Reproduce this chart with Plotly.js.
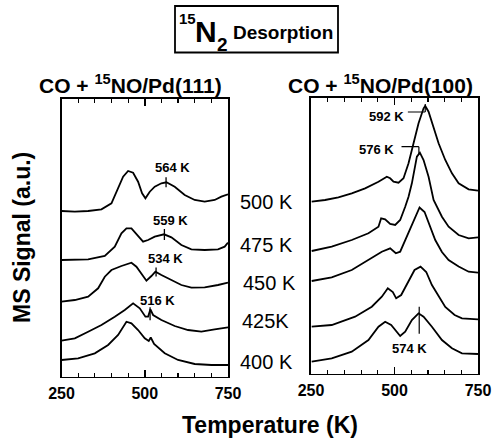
<!DOCTYPE html>
<html><head><meta charset="utf-8">
<script src="https://cdn.plot.ly/plotly-3.0.1.min.js"></script>
<style>html,body{margin:0;padding:0;background:#fff}#chart{width:496px;height:445px}</style>
</head><body><div id="chart"></div>
<script>
// ---------- DATA (signal in arbitrary units) ----------
// CO + 15NO / Pd(111)
const t111_500 = [250,290,330,370,400,420,435,450,465,480,492,502,515,530,550,565,590,620,650,680,710,730,750];
const s111_500 = [165.5,164.8,165.5,167.2,173.2,188.2,199.8,205.5,203.8,194.8,183.2,178.2,184.8,189.8,193.2,194.2,189.8,181.5,176.5,174.8,176.5,179.8,182.2];
const t111_475 = [250,330,380,410,430,445,460,478,495,510,530,558,580,610,640,680,720,740,750];
const s111_475 = [116.5,117.2,120.5,129.8,143.2,148.2,148.2,141.5,134.8,136.5,139.8,142.2,139.2,131.5,127.2,126.5,127.2,129.8,133.8];
const t111_450 = [250,290,330,360,380,400,430,460,475,492,505,520,532,550,580,610,640,680,720,750];
const s111_450 = [74.8,76.5,79.8,88.2,99.8,106.5,110.5,113.8,109.8,101.5,95.8,100.5,104.8,101.5,96.5,91.5,88.8,89.2,91.5,93.8];
const t111_425 = [250,290,330,370,410,440,465,485,502,510,517,525,550,590,630,670,710,750];
const s111_425 = [35.8,38.2,44.8,51.5,59.8,66.5,73.2,68.2,59.8,59.8,67.2,61.5,56.5,50.5,46.5,44.8,47.2,49.2];
const t111_400 = [250,300,350,390,420,435,445,460,480,500,505,512,518,528,560,600,650,700,750];
const s111_400 = [16.5,18.2,23.2,31.5,41.5,49.8,54.8,53.2,46.5,38.2,37.0,35.5,39.0,32.5,23.2,16.5,12.5,11.5,11.5];

// CO + 15NO / Pd(100)
const t100_500 = [252,292,332,372,412,452,477,487,497,512,527,542,557,572,587,592,602,617,632,652,672,692,722,750];
const s100_500 = [171.8,173.5,176.2,180.2,185.2,191.8,196.8,195.2,191.8,190.8,195.2,210.2,230.2,250.2,265.2,267.5,261.8,246.8,230.2,213.5,200.2,190.2,184.2,182.8];
const t100_475 = [252,312,372,422,452,460,472,487,502,517,532,542,552,567,576,587,602,617,642,662,692,722,750];
const s100_475 = [122.5,126.8,133.5,140.2,146.8,155.2,154.2,149.5,148.5,153.5,166.8,176.8,190.2,216.8,220.8,213.5,196.8,173.5,156.8,146.8,138.5,135.2,136.2];
const t100_450 = [252,312,372,422,462,487,504,517,537,557,575,590,607,622,642,662,692,722,750];
const s100_450 = [92.5,96.2,103.5,113.5,121.8,125.2,120.2,121.8,136.8,153.5,166.0,161.5,147.5,133.5,121.5,113.5,107.0,101.8,100.8];
const t100_425 = [252,312,382,432,462,480,495,505,520,540,560,578,595,612,632,652,680,702,750];
const s100_425 = [46.8,48.5,56.8,66.8,76.8,85.2,81.5,75.2,78.5,91.5,103.5,106.8,101.5,88.5,77.5,66.5,58.5,55.2,54.2];
const t100_400 = [252,312,372,422,452,472,490,517,532,552,572,587,612,642,672,702,750];
const s100_400 = [11.8,15.2,21.8,33.5,46.8,51.8,48.5,37.5,41.8,53.5,60.2,56.8,46.8,33.5,25.2,20.2,19.5];

const seriesLabels = ["500 K","475 K","450 K","425K","400 K"];
const xTickVals = [250,500,750];
const xTickText = ["250","500","750"];
const peakLabels111 = ["564 K","559 K","534 K","516 K"];
const peakTemps111 = [564,559,534,516];
const peakLabels100 = ["592 K","576 K","574 K"];
const peakTemps100 = [592,576,574];

// ---------- helpers ----------
const W = 496, H = 445;
const px = v => v / W;
const py = v => 1 - v / H;
function interp(ts, vs, t){
  for (let i=0;i<ts.length-1;i++){
    if (t>=ts[i] && t<=ts[i+1]){ const f=(t-ts[i])/(ts[i+1]-ts[i]); return vs[i]+f*(vs[i+1]-vs[i]); }
  }
  return vs[vs.length-1];
}
const lineStyle = {color:'#000', width:1.8};
const left = [[t111_500,s111_500],[t111_475,s111_475],[t111_450,s111_450],[t111_425,s111_425],[t111_400,s111_400]];
const right = [[t100_500,s100_500],[t100_475,s100_475],[t100_450,s100_450],[t100_425,s100_425],[t100_400,s100_400]];
const traces = [];
left.forEach((d,i)=>traces.push({x:d[0],y:d[1],type:'scatter',mode:'lines',line:lineStyle,name:seriesLabels[i],xaxis:'x',yaxis:'y',hoverinfo:'skip'}));
right.forEach((d,i)=>traces.push({x:d[0],y:d[1],type:'scatter',mode:'lines',line:lineStyle,name:seriesLabels[i],xaxis:'x2',yaxis:'y2',hoverinfo:'skip'}));

const bold = "Liberation Sans, Arial, Helvetica, sans-serif";
const shapes = [];
const annotations = [];

// Pd(111) peak markers: [trace index, label dT, label dS, tick below, tick above]
const m111 = [[0,19,15.3,5,5],[1,17,14.3,5.5,5.5],[2,27,13.7,4.5,4.5],[3,22,10.3,10,3]];
m111.forEach((m,i)=>{
  const T = peakTemps111[i]; const d = left[m[0]]; const v = interp(d[0],d[1],T);
  shapes.push({type:'line',xref:'x',yref:'y',x0:T,x1:T,y0:v-m[3],y1:v+m[4],line:{color:'#000',width:1.3}});
  annotations.push({xref:'x',yref:'y',x:T+m[1],y:v+m[2],text:peakLabels111[i],showarrow:false,xanchor:'center',yanchor:'middle',font:{family:bold,size:13,weight:'bold',color:'#000'}});
});
// Pd(100) peak markers
{
  // 592 K on 500 K trace
  let T = peakTemps100[0], v = interp(t100_500,s100_500,T);
  shapes.push({type:'line',xref:'x2',yref:'y2',x0:540,x1:T,y0:v-6,y1:v-6,line:{color:'#000',width:1.2}});
  shapes.push({type:'line',xref:'x2',yref:'y2',x0:T,x1:T,y0:v-6,y1:v+2,line:{color:'#000',width:1.2}});
  annotations.push({xref:'x2',yref:'y2',x:477,y:v-11,text:peakLabels100[0],showarrow:false,xanchor:'center',yanchor:'middle',font:{family:bold,size:13,weight:'bold',color:'#000'}});
  // 576 K on 475 K trace
  T = peakTemps100[1]; v = interp(t100_475,s100_475,T);
  shapes.push({type:'line',xref:'x2',yref:'y2',x0:521,x1:T-3,y0:v+6,y1:v+6,line:{color:'#000',width:1.2}});
  shapes.push({type:'line',xref:'x2',yref:'y2',x0:T-3,x1:T-3,y0:v+6,y1:v-2,line:{color:'#000',width:1.2}});
  annotations.push({xref:'x2',yref:'y2',x:447,y:v+3,text:peakLabels100[1],showarrow:false,xanchor:'center',yanchor:'middle',font:{family:bold,size:13,weight:'bold',color:'#000'}});
  // 574 K on 400 K trace
  T = peakTemps100[2]; v = interp(t100_400,s100_400,T);
  shapes.push({type:'line',xref:'x2',yref:'y2',x0:T,x1:T,y0:v-20,y1:v+7,line:{color:'#000',width:1.2}});
  annotations.push({xref:'x2',yref:'y2',x:546,y:v-34.5,text:peakLabels100[2],showarrow:false,xanchor:'center',yanchor:'middle',font:{family:bold,size:13,weight:'bold',color:'#000'}});
}

// middle series labels
const midY = [202,245,283,321,362];
const midX = [238,238,241,240,238];
seriesLabels.forEach((s,i)=>annotations.push({xref:'paper',yref:'paper',x:px(midX[i]),y:py(midY[i]),text:s,showarrow:false,xanchor:'left',yanchor:'middle',font:{family:bold,size:20,color:'#000'}}));

// panel titles
annotations.push({xref:'paper',yref:'paper',x:px(130),y:py(84),text:'CO + <sup>15</sup>NO/Pd(111)',showarrow:false,xanchor:'center',yanchor:'middle',font:{family:bold,size:21,weight:'bold',color:'#000'}});
annotations.push({xref:'paper',yref:'paper',x:px(380),y:py(84),text:'CO + <sup>15</sup>NO/Pd(100)',showarrow:false,xanchor:'center',yanchor:'middle',font:{family:bold,size:21,weight:'bold',color:'#000'}});

// main title in a box
shapes.push({type:'rect',xref:'paper',yref:'paper',x0:px(175),x1:px(338),y0:py(52.5),y1:py(6),line:{color:'#000',width:1.8},fillcolor:'rgba(0,0,0,0)'});
annotations.push({xref:'paper',yref:'paper',x:px(187.5),y:py(18.5),text:'15',showarrow:false,xanchor:'center',yanchor:'middle',font:{family:bold,size:15,weight:'bold',color:'#000'}});
annotations.push({xref:'paper',yref:'paper',x:px(206),y:py(31),text:'N',showarrow:false,xanchor:'center',yanchor:'middle',font:{family:bold,size:30,weight:'bold',color:'#000'}});
annotations.push({xref:'paper',yref:'paper',x:px(222),y:py(44),text:'2',showarrow:false,xanchor:'center',yanchor:'middle',font:{family:bold,size:19,weight:'bold',color:'#000'}});
annotations.push({xref:'paper',yref:'paper',x:px(282.5),y:py(32),text:'Desorption',showarrow:false,xanchor:'center',yanchor:'middle',font:{family:bold,size:19,weight:'bold',color:'#000'}});

// axis titles
annotations.push({xref:'paper',yref:'paper',x:px(22),y:py(238),text:'MS Signal (a.u.)',textangle:-90,showarrow:false,xanchor:'center',yanchor:'middle',font:{family:bold,size:23,weight:'bold',color:'#000'}});
annotations.push({xref:'paper',yref:'paper',x:px(270),y:py(425),text:'Temperature (K)',showarrow:false,xanchor:'center',yanchor:'middle',font:{family:bold,size:23,weight:'bold',color:'#000'}});

const xCommon = {range:[250,750],tickvals:xTickVals,ticktext:xTickText,ticks:'inside',ticklen:7,tickwidth:1.5,tickcolor:'#000',
  minor:{dtick:50,tick0:250,ticks:'inside',ticklen:4,tickwidth:1.2,tickcolor:'#000'},
  showline:true,linewidth:1.6,linecolor:'#000',mirror:'ticks',showgrid:false,zeroline:false,ticklabelstandoff:2,
  tickfont:{family:bold,size:16,weight:'bold',color:'#000'},fixedrange:true};
const yCommon = {showline:true,linewidth:1.6,linecolor:'#000',mirror:true,showticklabels:false,ticks:'',showgrid:false,zeroline:false,fixedrange:true};

const layout = {
  width:W,height:H,margin:{l:0,r:0,t:0,b:0},paper_bgcolor:'#fff',plot_bgcolor:'#fff',showlegend:false,
  xaxis:Object.assign({},xCommon,{domain:[px(61.5),px(228)],anchor:'y'}),
  yaxis:Object.assign({},yCommon,{domain:[py(376.5),py(99)],range:[0,277.5],anchor:'x'}),
  xaxis2:Object.assign({},xCommon,{domain:[px(311),px(478)],anchor:'y2'}),
  yaxis2:Object.assign({},yCommon,{domain:[py(373.5),py(97.5)],range:[0,276],anchor:'x2'}),
  shapes:shapes,annotations:annotations,font:{family:bold,color:'#000'}
};
Plotly.newPlot('chart',traces,layout,{staticPlot:true,displayModeBar:false});
</script></body></html>
